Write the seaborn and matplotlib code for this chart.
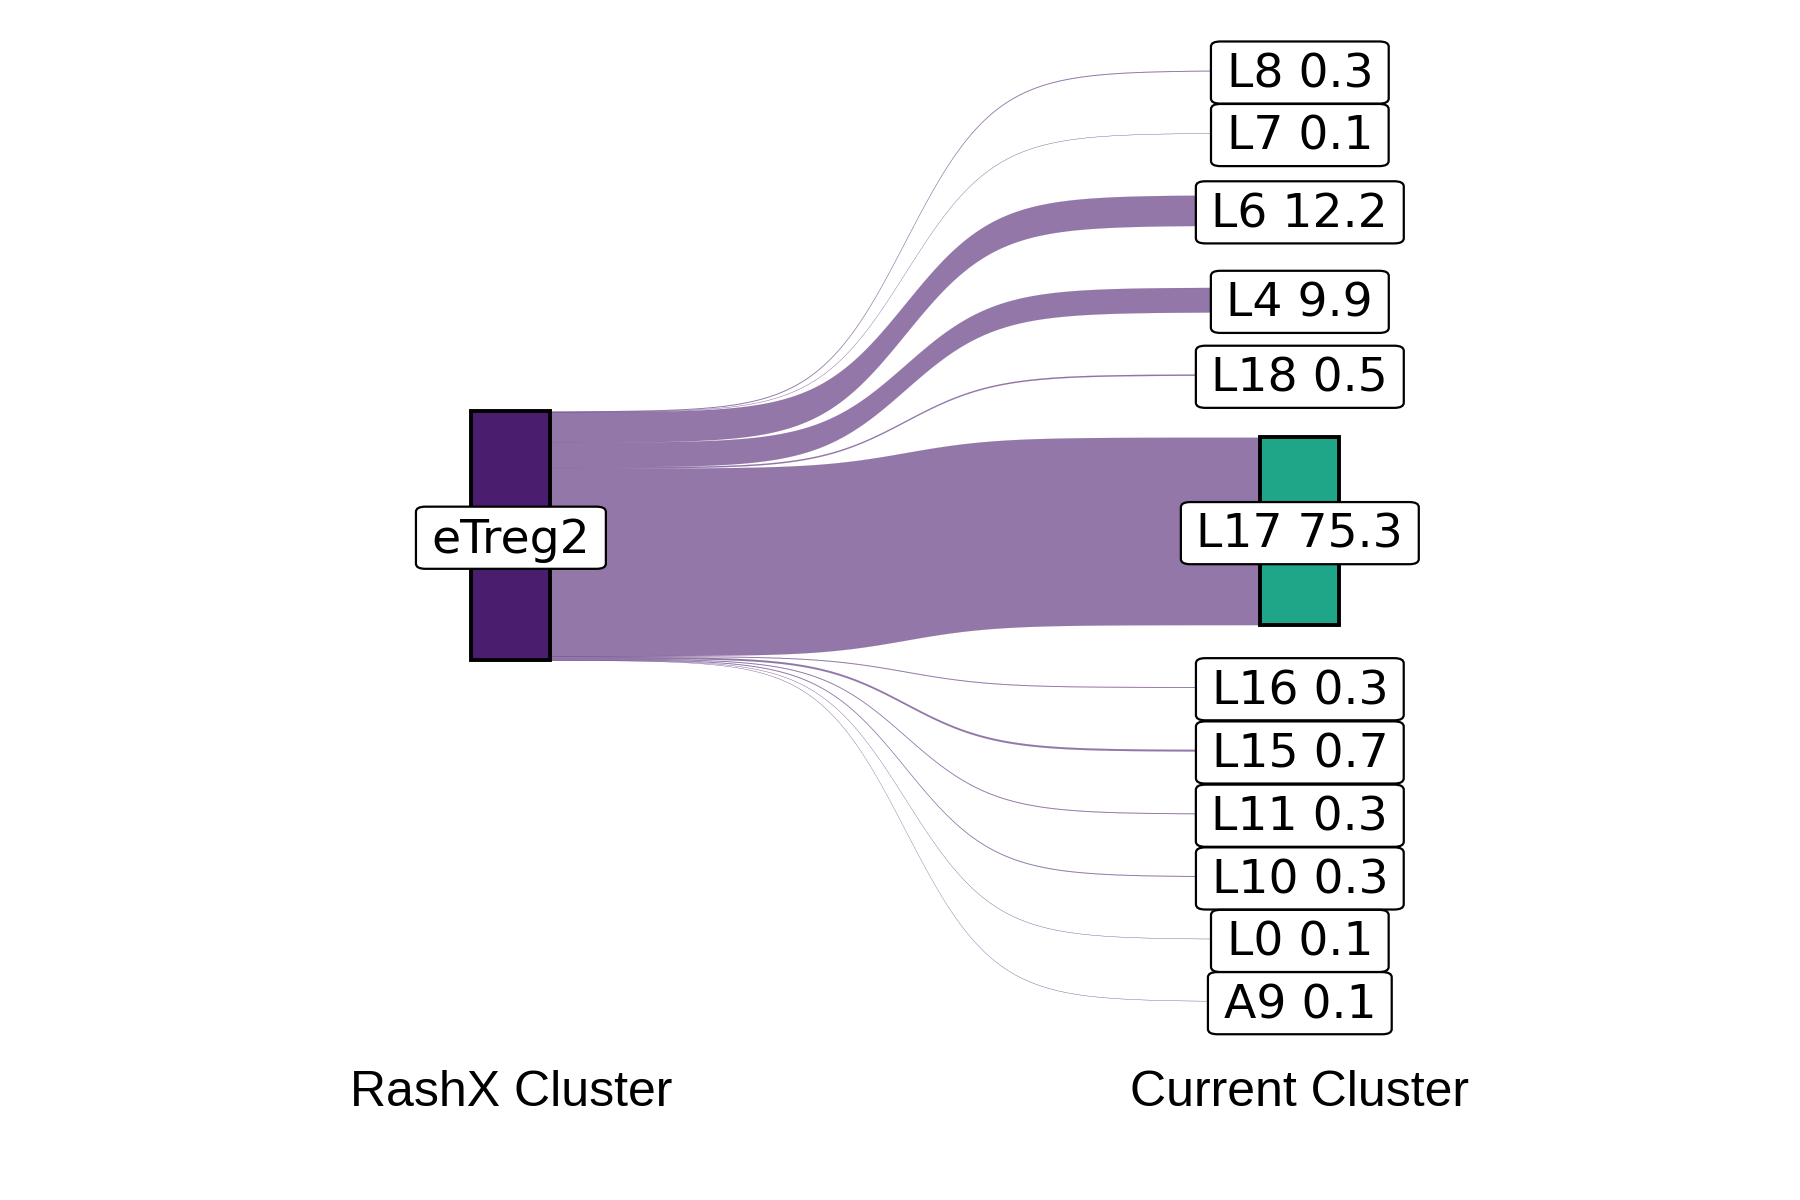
import numpy as np
import matplotlib.pyplot as plt
import matplotlib.patches as mpatches
import seaborn as sns

# data: share (%) of the RashX cluster eTreg2 landing in each current cluster
source = "eTreg2"
targets = ["L8", "L7", "L6", "L4", "L18", "L17", "L16", "L15", "L11", "L10", "L0", "A9"]
pct = [0.3, 0.1, 12.2, 9.9, 0.5, 75.3, 0.3, 0.7, 0.3, 0.3, 0.1, 0.1]
axis_names = ["RashX Cluster", "Current Cluster"]

sns.set_theme(style="white")
plt.rcParams['font.family'] = ['DejaVu Sans']
plt.rcParams['text.color'] = 'black'

src_col = "#4A1D6F"
pal = sns.color_palette("Dark2", len(targets))
tgt_cols = {t: pal[i % len(pal)] for i, t in enumerate(targets)}
tgt_cols["L17"] = "#1FA587"

gap = 24.9
node_w = 0.1
smooth = 8

vals = np.array(pct)
# right column: stacked with gaps, centred on 0
tot_r = vals.sum() + gap * (len(vals) - 1)
r_top = []
y = tot_r / 2
for v in vals:
    r_top.append(y)
    y -= v + gap
r_top = np.array(r_top)
r_bot = r_top - vals
# left column: one node, flows stacked in the same order
l_top = vals.sum() / 2 - np.concatenate([[0], np.cumsum(vals)[:-1]])
l_bot = l_top - vals

fig = plt.figure(figsize=(18, 12), dpi=100)
ax = fig.add_axes([0, 0, 1, 1])
ax.set_xlim(0.3524, 2.634)
ax.set_ylim(-266.9, 215.1)
ax.axis("off")

# sigmoid flows between node edges
t = np.linspace(-smooth, smooth, 300)
s = 1 / (1 + np.exp(-t))
s = (s - s[0]) / (s[-1] - s[0])
xs = 1 + node_w / 2 + (t + smooth) / (2 * smooth) * (1 - node_w)

for i in range(len(vals)):
    up = l_top[i] + s * (r_top[i] - l_top[i])
    lo = l_bot[i] + s * (r_bot[i] - l_bot[i])
    ax.fill_between(xs, lo, up, color=src_col, alpha=0.6, lw=0.12, zorder=1)

# nodes
ax.add_patch(mpatches.Rectangle((1 - node_w / 2, l_bot[-1]), node_w, vals.sum(),
                                facecolor=src_col, edgecolor="black", lw=2.8, zorder=2))
for i, tg in enumerate(targets):
    ax.add_patch(mpatches.Rectangle((2 - node_w / 2, r_bot[i]), node_w, vals[i],
                                    facecolor=tgt_cols[tg], edgecolor="black", lw=2.8, zorder=2))

box = dict(boxstyle="round,pad=0.33,rounding_size=0.2", facecolor="white",
           edgecolor="black", lw=1.6, mutation_aspect=0.55)


def label(x, y, txt):
    # box and ink drawn separately so the ink sits a touch lower in the box
    ax.annotate(txt, (x, y), xytext=(0, -1.6), textcoords="offset points",
                ha="center", va="center", fontsize=34, color="none", bbox=box, zorder=3)
    ax.annotate(txt, (x, y), xytext=(0, -3.3), textcoords="offset points",
                ha="center", va="center", fontsize=34, color="black", zorder=4)


label(1, 0, source)
for i, tg in enumerate(targets):
    label(2, (r_top[i] + r_bot[i]) / 2, f"{tg} {pct[i]}")

for k, name in enumerate(axis_names):
    ax.text(k + 1, -229, name, ha="center", va="baseline", fontsize=36,
            color="black", family=["Liberation Sans", "DejaVu Sans"])

fig.savefig("out.png", dpi=100, facecolor="white")
